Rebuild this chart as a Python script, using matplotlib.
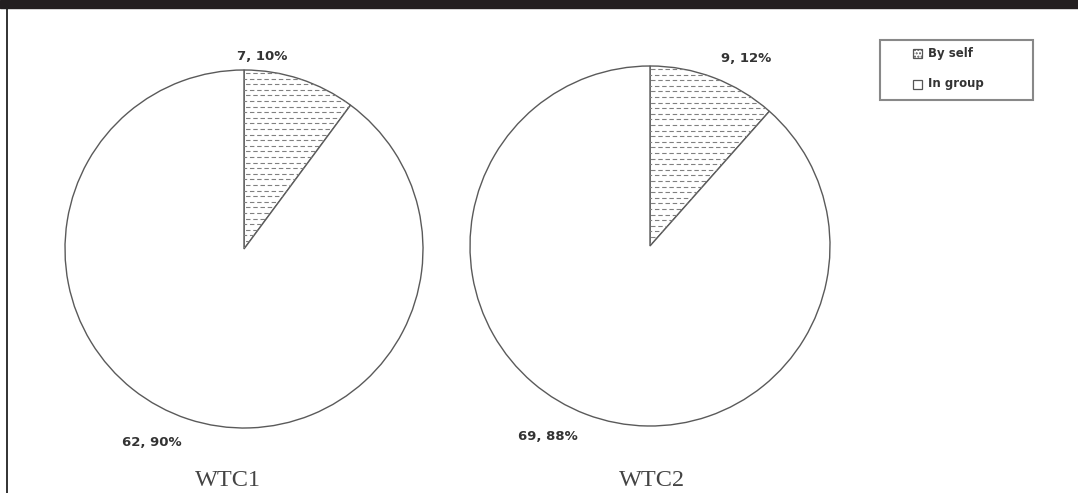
import matplotlib
matplotlib.use('Agg')
import matplotlib.pyplot as plt
from matplotlib.patches import Rectangle
from matplotlib.lines import Line2D
import numpy as np

# data
groups = ['WTC1', 'WTC2']
categories = ['By self', 'In group']
by_self = [7, 9]
in_group = [62, 69]

W, H = 1078, 493
fig = plt.figure(figsize=(W / 100, H / 100), dpi=100)
ax = fig.add_axes([0, 0, 1, 1])

# pie layout in pixel coords (y measured from top of the image)
centers = [(244, 249), (650, 246)]
radii = [179, 180]
label_pos = [[(262, 57), (152, 442)], [(746, 58), (548, 436)]]
title_pos = [(228, 480), (652, 480)]

edge = '#5a5a5a'
for i, grp in enumerate(groups):
    vals = [by_self[i], in_group[i]]
    total = sum(vals)
    cx, cy = centers[i]
    r = radii[i]
    wedges, _ = ax.pie(vals, startangle=90, counterclock=False,
                       center=(cx, H - cy), radius=r, colors=['white', 'white'],
                       wedgeprops=dict(edgecolor=edge, linewidth=1.0),
                       frame=True)
    # dashed hatch for the "By self" slice, rows staggered
    w = wedges[0]
    for k, yy in enumerate(np.arange(H - cy + r - 3, H - cy, -5.6)):
        ln = Line2D([cx - r, cx + r], [yy, yy], color='#808080', lw=0.8,
                    linestyle=((k % 2) * 3.0, (4, 2.5)), dash_capstyle='butt')
        ax.add_line(ln)
        ln.set_clip_path(w)
    for j, v in enumerate(vals):
        lx, ly = label_pos[i][j]
        ax.text(lx, H - ly, f'{v}, {round(100 * v / total)}%', ha='center',
                va='center', fontsize=9.5, fontweight='bold', color='#333333',
                family='DejaVu Sans')
    tx, ty = title_pos[i]
    ax.text(tx, H - ty, grp, ha='center', va='center', fontsize=17.5,
            family='Liberation Serif', color='#444444')

# frame decorations
ax.add_patch(Rectangle((0, H - 8), W, 8, color='#231f20', zorder=5))
ax.plot([6.5, 6.5], [0, H - 8], color='#222222', lw=1.3, zorder=5)

# legend box, drawn by hand to match the Excel layout
ax.add_patch(Rectangle((880, H - 100), 153, 60, facecolor='white',
                       edgecolor='#888888', lw=1.5))
leg_y = [53, 84]
for k, name in enumerate(categories):
    y = H - leg_y[k]
    sq = Rectangle((913, y - 4.5), 9, 9, facecolor='white',
                   edgecolor='#555555', lw=0.9,
                   hatch='.....' if k == 0 else None)
    ax.add_patch(sq)
    ax.text(928, y, name, ha='left', va='center', fontsize=8.5,
            fontweight='bold', color='#333333', family='DejaVu Sans')

ax.set_xlim(0, W)
ax.set_ylim(0, H)
ax.set_aspect('equal')
ax.axis('off')

fig.savefig('out.png', dpi=100, facecolor='white')
